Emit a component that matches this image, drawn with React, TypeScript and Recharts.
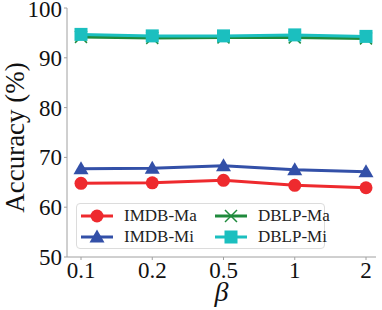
import React from "react";
import { LineChart, Line, XAxis, YAxis } from "recharts";

const betas = ["0.1", "0.2", "0.5", "1", "2"];
const imdbMa = [64.8, 64.9, 65.4, 64.4, 63.9];
const imdbMi = [67.7, 67.8, 68.3, 67.5, 67.1];
const dblpMa = [94.2, 94.0, 94.1, 94.1, 93.9];
const dblpMi = [94.7, 94.4, 94.4, 94.6, 94.3];
const yTicks = [50, 60, 70, 80, 90, 100];

const data = betas.map((b, i) => ({
  beta: b,
  imdbMa: imdbMa[i],
  imdbMi: imdbMi[i],
  dblpMa: dblpMa[i],
  dblpMi: dblpMi[i],
}));

const FONT = "Liberation Serif";
const AXIS = "#a0a0a0";

const series = [
  { key: "imdbMa", name: "IMDB-Ma", color: "#ee2a2e", shape: "circle" },
  { key: "imdbMi", name: "IMDB-Mi", color: "#3350a8", shape: "triangle" },
  { key: "dblpMa", name: "DBLP-Ma", color: "#1f8a3c", shape: "cross" },
  { key: "dblpMi", name: "DBLP-Mi", color: "#1bbfbf", shape: "square" },
];

const Marker = ({ cx, cy, shape, color }: any) => {
  if (cx == null || cy == null) return null;
  if (shape === "circle") return <circle cx={cx} cy={cy} r={6.5} fill={color} />;
  if (shape === "triangle")
    return (
      <polygon
        points={`${cx},${cy - 7.5} ${cx - 7.5},${cy + 5.5} ${cx + 7.5},${cy + 5.5}`}
        fill={color}
      />
    );
  if (shape === "square")
    return <rect x={cx - 6.5} y={cy - 6.5} width={13} height={13} fill={color} />;
  return (
    <g stroke={color} strokeWidth={1.5}>
      <line x1={cx - 6} y1={cy - 6} x2={cx + 6} y2={cy + 6} />
      <line x1={cx - 6} y1={cy + 6} x2={cx + 6} y2={cy - 6} />
    </g>
  );
};

const LegendBox = () => (
  <div
    style={{
      position: "absolute",
      left: 76,
      top: 203,
      width: 247,
      height: 43,
      border: "1px solid #dcdcdc",
      borderRadius: 4,
      background: "rgba(255,255,255,0.85)",
      display: "grid",
      gridTemplateColumns: "134px 113px",
      gridTemplateRows: "21px 21px",
      paddingTop: 1,
      fontFamily: FONT,
      fontSize: 17,
      color: "#222",
      boxSizing: "content-box",
    }}
  >
    {[series[0], series[2], series[1], series[3]].map((s) => (
      <div key={s.key} style={{ display: "flex", alignItems: "center", whiteSpace: "nowrap" }}>
        <svg width={44} height={20} style={{ marginLeft: 3, flexShrink: 0 }}>
          <line x1={1} y1={10} x2={33} y2={10} stroke={s.color} strokeWidth={3} />
          <Marker cx={17} cy={10} shape={s.shape} color={s.color} />
        </svg>
        <span>{s.name}</span>
      </div>
    ))}
  </div>
);

const XTick = ({ x, y, payload }: any) => (
  <text x={x} y={y + 16} textAnchor="middle" style={{ fontFamily: FONT, fontSize: 23, fill: "#111" }}>
    {payload.value}
  </text>
);

const YTick = ({ x, y, payload }: any) => (
  <text x={x} y={y + 8} textAnchor="end" style={{ fontFamily: FONT, fontSize: 23, fill: "#111" }}>
    {payload.value}
  </text>
);

const YLabel = ({ viewBox }: any) => {
  const x = viewBox.x + 15;
  const y = viewBox.y + viewBox.height / 2 + 5;
  return (
    <text
      x={x}
      y={y}
      transform={`rotate(-90 ${x} ${y})`}
      textAnchor="middle"
      dominantBaseline="central"
      style={{ fontFamily: FONT, fontSize: 27, fill: "#111" }}
    >
      Accuracy (%)
    </text>
  );
};

const XLabel = ({ viewBox }: any) => (
  <text
    x={viewBox.x + viewBox.width / 2}
    y={viewBox.y + 44}
    textAnchor="middle"
    style={{ fontFamily: FONT, fontSize: 28, fontStyle: "italic", fill: "#111" }}
  >
    β
  </text>
);

export default function App() {
  return (
    <div style={{ position: "absolute", left: 0, top: 0, background: "#fff", fontFamily: FONT }}>
      <LineChart
        width={382}
        height={310}
        data={data}
        margin={{ top: 8, right: 6, left: 0, bottom: 0 }}
      >
        <XAxis
          dataKey="beta"
          height={53}
          padding={{ left: 14, right: 10 }}
          stroke={AXIS}
          tickSize={3}
          tick={<XTick />}
          interval={0}
          label={<XLabel />}
        />
        <XAxis xAxisId="top" dataKey="beta" orientation="top" height={0} tick={false} tickLine={false} stroke={AXIS} />
        <YAxis
          width={67}
          domain={[50, 100]}
          ticks={yTicks}
          stroke={AXIS}
          tickSize={3}
          tick={<YTick />}
          label={<YLabel />}
        />
        <YAxis yAxisId="right" orientation="right" width={0} tick={false} tickLine={false} stroke={AXIS} />
        {series.map((s) => (
          <Line
            key={s.key}
            dataKey={s.key}
            name={s.name}
            stroke={s.color}
            strokeWidth={3}
            isAnimationActive={false}
            dot={(p: any) => <Marker key={p.index} cx={p.cx} cy={p.cy} shape={s.shape} color={s.color} />}
          />
        ))}
      </LineChart>
      <LegendBox />
    </div>
  );
}
